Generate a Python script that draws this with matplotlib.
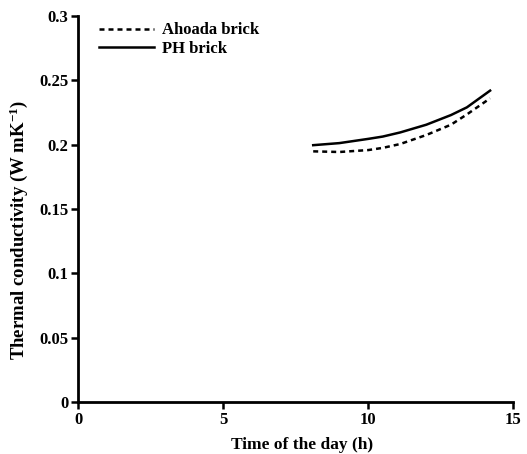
import matplotlib
matplotlib.use("Agg")
import matplotlib.pyplot as plt

# Data
hours = [8.1, 9.0, 10.0, 10.5, 11.1, 12.0, 12.85, 13.4, 14.2]
ph_brick = [0.1996, 0.2012, 0.2045, 0.2063, 0.2095, 0.2155, 0.223, 0.229, 0.242]
ahoada_brick = [0.1948, 0.1943, 0.1958, 0.1975, 0.2005, 0.2075, 0.2155, 0.2235, 0.236]

x_ticks = [0, 5, 10, 15]
y_ticks = [0, 0.05, 0.1, 0.15, 0.2, 0.25, 0.3]
y_labels = ["0", "0.05", "0.1", "0.15", "0.2", "0.25", "0.3"]

plt.rcParams["font.family"] = ["Liberation Serif", "DejaVu Serif"]
plt.rcParams["font.weight"] = "bold"
plt.rcParams["mathtext.fontset"] = "custom"
plt.rcParams["mathtext.rm"] = "Liberation Serif:bold"
plt.rcParams["mathtext.default"] = "rm"

fig = plt.figure(figsize=(5.27, 4.54), dpi=100)
ax = fig.add_axes([0.1486, 0.1145, 0.8254, 0.8503])

ax.plot(hours, ahoada_brick, color="black", linewidth=1.8, dashes=(2, 1.6),
        label="Ahoada brick")
ax.plot(hours, ph_brick, color="black", linewidth=1.8, label="PH brick")

ax.set_xlim(0, 15)
ax.set_ylim(0, 0.3)
ax.set_xticks(x_ticks)
ax.set_yticks(y_ticks)
ax.set_yticklabels(y_labels)
ax.tick_params(labelsize=12, width=1.8, length=5, pad=2)

for side in ["top", "right"]:
    ax.spines[side].set_visible(False)
for side in ["left", "bottom"]:
    ax.spines[side].set_linewidth(2)

ax.set_xlabel("Time of the day (h)", fontsize=12.5, fontweight="bold")
ax.xaxis.set_label_coords(0.515, -0.09)
ax.set_ylabel(r"Thermal conductivity (W mK$^{-1}$)", fontsize=13.5,
              fontweight="bold")
ax.yaxis.set_label_coords(-0.11, 0.445)

ax.legend(loc="upper left", bbox_to_anchor=(0.012, 1.022), frameon=False,
          fontsize=12, handlelength=3.3, handletextpad=0.5, labelspacing=0.15)

fig.savefig("out.png", dpi=100)
